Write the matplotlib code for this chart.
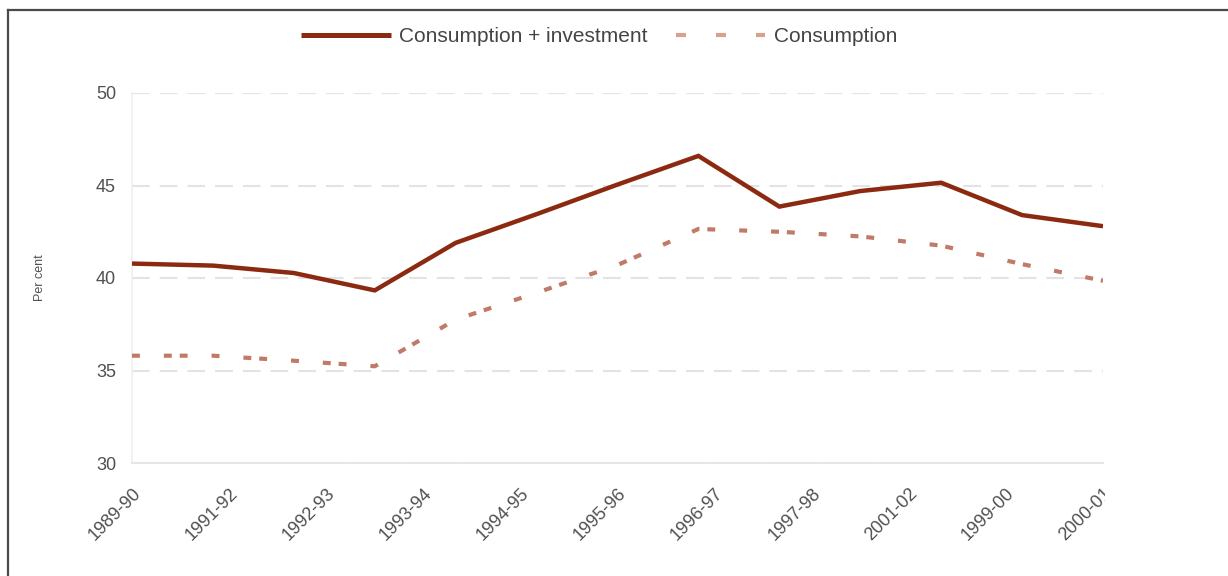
import numpy as np
import matplotlib
matplotlib.use("Agg")
import matplotlib.pyplot as plt
from matplotlib.lines import Line2D
from matplotlib.transforms import Bbox, TransformedBbox

plt.rcParams['font.family'] = ['Liberation Sans', 'DejaVu Sans']

# Share of output (per cent), one value per financial year
cons_inv = [40.78, 40.67, 40.27, 39.33, 41.9, 43.45, 45.05, 46.6, 43.86, 44.7, 45.15, 43.4, 42.8]
consumption = [35.8, 35.8, 35.53, 35.23, 37.75, 39.2, 40.7, 42.65, 42.5, 42.25, 41.75, 40.75, 39.85]
year_index = np.arange(len(cons_inv))

tick_labels = ['1989-90', '1991-92', '1992-93', '1993-94', '1994-95', '1995-96',
               '1996-97', '1997-98', '2001-02', '1999-00', '2000-01']
y_ticks = [30, 35, 40, 45, 50]

series_labels = ['Consumption + investment', 'Consumption']

solid_col = '#8b2a10'
dash_col = '#bf7a68'
text_col = '#505050'

W, H = 1228, 576
fig = plt.figure(figsize=(W / 100, H / 100), dpi=100)
ax = fig.add_axes([132 / W, 1 - 463 / H, (1103 - 132) / W, (463 - 93) / H])

ax.plot(year_index, cons_inv, color=solid_col, lw=3.2, solid_joinstyle='miter',
        solid_capstyle='butt', zorder=3)
ax.plot(year_index, consumption, color=dash_col, lw=3.0,
        dashes=[1.9, 5.75, 1.9, 1.9, 1.9, 5.75], dash_capstyle='butt', zorder=3)

ax.set_xlim(year_index[0], year_index[-1])
ax.set_ylim(y_ticks[0], y_ticks[-1])
ax.set_yticks(y_ticks)
ax.set_xticks(np.linspace(year_index[0], year_index[-1], len(tick_labels)))
ax.set_xticklabels(tick_labels, rotation=45, ha='right', va='top',
                   rotation_mode='anchor')

ax.tick_params(axis='x', length=0, pad=15.8, labelsize=13, labelcolor=text_col)
ax.tick_params(axis='y', length=0, pad=11.5, labelsize=13, labelcolor=text_col)

ax.yaxis.grid(True, color='#e3e3e3', lw=1.5, linestyle=(0, (8.5, 4.8)))
ax.set_axisbelow(True)
for side in ('top', 'right'):
    ax.spines[side].set_visible(False)
ax.spines['bottom'].set_color('#e6e6e6')
ax.spines['bottom'].set_linewidth(1.5)
ax.spines['left'].set_color('#efefef')
ax.spines['left'].set_linewidth(1.2)

# labels past the right edge of the plot area are cut off
clip = TransformedBbox(Bbox([[-1, -1], [1.002, 2]]), ax.transAxes)
for tl in ax.get_xticklabels():
    tl.set_clip_box(clip)
    tl.set_clip_on(True)

fig.text(40 / W, 1 - 278 / H, 'Per cent', rotation=90, ha='center', va='center',
         fontsize=9, color=text_col)

handles = [
    Line2D([], [], color=solid_col, lw=3.6, solid_capstyle='butt'),
    Line2D([], [], color='#d9a090', lw=3.0, dashes=[2.4, 7.2], dash_capstyle='butt'),
]
fig.legend(handles, series_labels, loc='center', bbox_to_anchor=(599 / W, 1 - 37 / H),
           ncol=2, frameon=False, fontsize=15, handlelength=4.3, handletextpad=0.4,
           columnspacing=1.35, labelcolor='#444444')

# frame lines along the top and left of the figure
fig.add_artist(Line2D([8 / W, 1], [1 - 10 / H, 1 - 10 / H], color='#4a4a4a', lw=1.6,
                      transform=fig.transFigure))
fig.add_artist(Line2D([8 / W, 8 / W], [0, 1 - 10 / H], color='#4a4a4a', lw=1.6,
                      transform=fig.transFigure))

fig.savefig('out.png', dpi=100, facecolor='white')
